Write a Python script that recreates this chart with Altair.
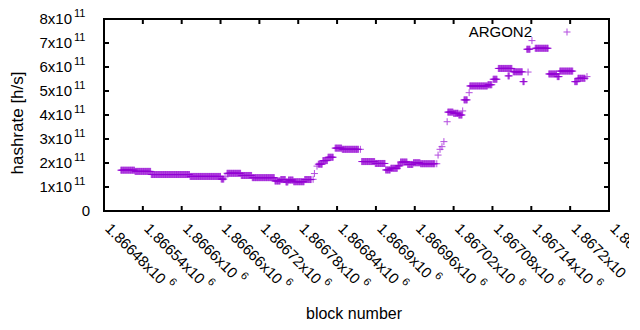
import altair as alt
import pandas as pd

series_name = "ARGON2"

# runs of consecutive blocks sharing one hashrate estimate (rate in units of 1e11 h/s)
run_first = [1866506, 1866528, 1866553, 1866613, 1866661, 1866667, 1866670, 1866692, 1866709, 1866744,
             1866753, 1866761, 1866765, 1866773, 1866790, 1866803, 1866805, 1866809, 1866811, 1866818,
             1866826, 1866837, 1866848, 1866876, 1866878, 1866899, 1866915, 1866923, 1866934, 1866938,
             1866949, 1866958, 1866969, 1866994, 1866996, 1866999, 1867002, 1867005, 1867010, 1867011,
             1867020, 1867028, 1867034, 1867036, 1867044, 1867045, 1867073, 1867081, 1867089, 1867104,
             1867112, 1867127, 1867133, 1867135, 1867141, 1867146, 1867167, 1867180, 1867184, 1867207,
             1867212, 1867226]
run_last = [1866527, 1866552, 1866612, 1866660, 1866665, 1866667, 1866691, 1866708, 1866743, 1866752,
            1866760, 1866764, 1866772, 1866789, 1866800, 1866803, 1866805, 1866809, 1866817, 1866825,
            1866834, 1866847, 1866873, 1866876, 1866898, 1866914, 1866922, 1866933, 1866937, 1866948,
            1866957, 1866968, 1866991, 1866994, 1866996, 1866999, 1867002, 1867005, 1867010, 1867019,
            1867027, 1867033, 1867034, 1867041, 1867044, 1867072, 1867079, 1867087, 1867110, 1867106,
            1867126, 1867129, 1867138, 1867135, 1867141, 1867166, 1867179, 1867183, 1867204, 1867211,
            1867223, 1867226]
run_rate = [1.70, 1.65, 1.52, 1.44, 1.33, 1.42, 1.57, 1.48, 1.39, 1.25,
            1.31, 1.21, 1.29, 1.22, 1.31, 1.32, 1.56, 1.87, 1.95, 2.10,
            2.24, 2.62, 2.57, 2.57, 2.06, 1.98, 1.71, 1.78, 1.88, 2.04,
            1.94, 2.01, 1.97, 1.97, 2.33, 2.57, 2.68, 2.89, 3.72, 4.12,
            4.07, 4.00, 4.17, 4.63, 4.93, 5.21, 5.26, 5.49, 5.94, 5.63,
            5.80, 5.39, 6.74, 5.79, 7.10, 6.78, 5.71, 5.60, 5.83, 5.39,
            5.53, 5.60]

x_ticks = [1866480, 1866540, 1866600, 1866660, 1866720, 1866780, 1866840,
           1866900, 1866960, 1867020, 1867080, 1867140, 1867200, 1867260]
x_tick_mant = ["1.86648x10", "1.86654x10", "1.8666x10", "1.86666x10", "1.86672x10", "1.86678x10",
               "1.86684x10", "1.8669x10", "1.86696x10", "1.86702x10", "1.86708x10", "1.86714x10",
               "1.8672x10", "1.86726x10"]
x_tick_exp = ["6"] * 14

y_ticks = [0, 1e11, 2e11, 3e11, 4e11, 5e11, 6e11, 7e11, 8e11]
y_tick_mant = ["0", "1x10", "2x10", "3x10", "4x10", "5x10", "6x10", "7x10", "8x10"]
y_tick_exp = ["", "11", "11", "11", "11", "11", "11", "11", "11"]

x_title = "block number"
y_title = "hashrate [h/s]"

COLOR = "#9400d3"
FONT = "Liberation Sans"
PLUS = "M-1,0L1,0M0,-1L0,1"
W, H = 505, 192

blocks, rates = [], []
for a, b, r in zip(run_first, run_last, run_rate):
    for blk in range(a, b + 1):
        blocks.append(blk)
        rates.append(r * 1e11)
df = pd.DataFrame({"block": blocks, "hashrate": rates, "series": series_name})

xtick_df = pd.DataFrame({"tick": x_ticks})
ytick_df = pd.DataFrame({"value": y_ticks})
xdf = pd.DataFrame({"tick": x_ticks, "mant": x_tick_mant, "exp": x_tick_exp})
ydf = pd.DataFrame({"value": y_ticks, "mant": y_tick_mant, "exp": y_tick_exp})
keydf = pd.DataFrame({"series": [series_name], "xt": [x_title], "yt": [y_title]})
one = pd.DataFrame({"a": [1]})

xs = alt.Scale(domain=[x_ticks[0], x_ticks[-1]], nice=False, zero=False)
ys = alt.Scale(domain=[y_ticks[0], y_ticks[-1]], nice=False, zero=False)

# data points: plain stroke colour, no colour scale
points = alt.Chart(df).mark_point(shape=PLUS, filled=False, size=49, strokeWidth=1, color=COLOR).encode(
    x=alt.X("block:Q", scale=xs, axis=None),
    y=alt.Y("hashrate:Q", scale=ys, axis=None),
)

# plot frame
frame = alt.Chart(one).mark_rect(filled=False, stroke="black", strokeWidth=2).encode(
    x=alt.value(0), x2=alt.value(W), y=alt.value(0), y2=alt.value(H))

# inward ticks on all four sides
xt_bottom = alt.Chart(xtick_df).mark_rule(color="black", strokeWidth=2).encode(
    x=alt.X("tick:Q", scale=xs, axis=None), y=alt.value(H), y2=alt.value(H - 5))
xt_top = alt.Chart(xtick_df).mark_rule(color="black", strokeWidth=2).encode(
    x=alt.X("tick:Q", scale=xs, axis=None), y=alt.value(0), y2=alt.value(5))
yt_left = alt.Chart(ytick_df).mark_rule(color="black", strokeWidth=2).encode(
    y=alt.Y("value:Q", scale=ys, axis=None), x=alt.value(0), x2=alt.value(5))
yt_right = alt.Chart(ytick_df).mark_rule(color="black", strokeWidth=2).encode(
    y=alt.Y("value:Q", scale=ys, axis=None), x=alt.value(W), x2=alt.value(W - 5))

# axis titles
xtitle = alt.Chart(keydf).mark_text(
    align="center", baseline="alphabetic", font=FONT, fontSize=16, color="black").encode(
    x=alt.value(250), y=alt.value(H + 108), text="xt:N")
ytitle = alt.Chart(keydf).mark_text(
    align="center", baseline="alphabetic", font=FONT, fontSize=17, color="black", angle=270).encode(
    x=alt.value(-81), y=alt.value(104), text="yt:N")

# key: label then sample symbol (gnuplot style, top right)
key_text = alt.Chart(keydf).mark_text(
    align="right", baseline="middle", font=FONT, fontSize=15, color="black").encode(
    x=alt.value(428), y=alt.value(13), text="series:N")
key_sym = alt.Chart(keydf).mark_point(shape=PLUS, filled=False, size=49, strokeWidth=1, color=COLOR).encode(
    x=alt.value(463), y=alt.value(13))

# y tick labels with superscript exponents
ylab = alt.Chart(ydf).transform_filter("datum.value > 0").mark_text(
    align="right", baseline="middle", font=FONT, fontSize=15, color="black").encode(
    y=alt.Y("value:Q", scale=ys, axis=None), x=alt.value(-32), text="mant:N")
yexp = alt.Chart(ydf).transform_filter("datum.value > 0").mark_text(
    align="left", baseline="middle", font=FONT, fontSize=11, color="black", dy=-5).encode(
    y=alt.Y("value:Q", scale=ys, axis=None), x=alt.value(-30), text="exp:N")
yzero = alt.Chart(ydf).transform_filter("datum.value == 0").mark_text(
    align="right", baseline="middle", font=FONT, fontSize=15, color="black").encode(
    y=alt.Y("value:Q", scale=ys, axis=None), x=alt.value(-14), text="mant:N")

# x tick labels rotated, with superscript exponents
xlab = alt.Chart(xdf).mark_text(
    align="left", baseline="middle", font=FONT, fontSize=15, color="black", angle=45, dx=2.7, dy=-2.7).encode(
    x=alt.X("tick:Q", scale=xs, axis=None), y=alt.value(H + 15), text="mant:N")
xexp_long = alt.Chart(xdf).transform_filter("length(datum.mant) == 10").mark_text(
    align="left", baseline="middle", font=FONT, fontSize=11, color="black", angle=45,
    dx=2.7 + 78.4 + 4, dy=-2.7 - 6).encode(
    x=alt.X("tick:Q", scale=xs, axis=None), y=alt.value(H + 15), text="exp:N")
xexp_short = alt.Chart(xdf).transform_filter("length(datum.mant) == 9").mark_text(
    align="left", baseline="middle", font=FONT, fontSize=11, color="black", angle=45,
    dx=2.7 + 70.0 + 4, dy=-2.7 - 6).encode(
    x=alt.X("tick:Q", scale=xs, axis=None), y=alt.value(H + 15), text="exp:N")

chart = alt.layer(
    frame, xt_bottom, xt_top, yt_left, yt_right,
    points, key_text, key_sym,
    xtitle, ytitle, ylab, yexp, yzero, xlab, xexp_long, xexp_short,
).properties(
    width=W, height=H,
    padding={"left": 96, "top": 11, "right": 20, "bottom": 111},
    autosize=alt.AutoSizeParams(type="none"),
)

chart.save("out.html", embed_options={"renderer": "svg", "actions": False})
